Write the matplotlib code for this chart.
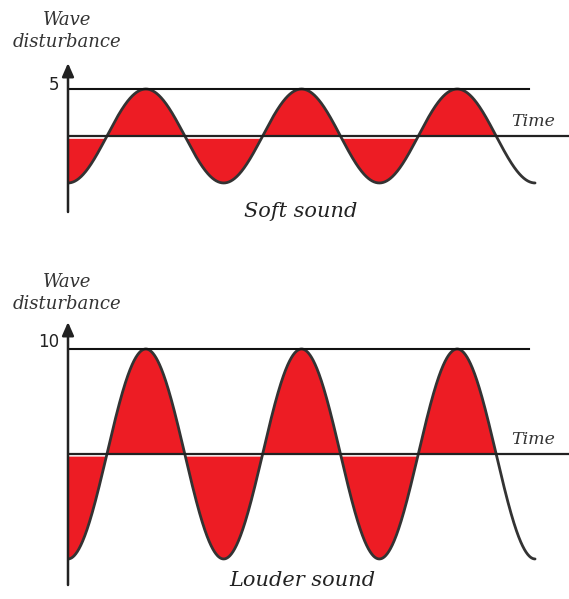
import matplotlib.pyplot as plt
import numpy as np

# wave settings for the two panels
periods = 3
fill_until = 2.75          # last half-lobe is left unfilled
soft_amp = 5
loud_amp = 10
soft_tick = [5]
loud_tick = [10]
soft_title = "Soft sound"
loud_title = "Louder sound"
y_label = "Wave\ndisturbance"
x_label = "Time"

RED = "#ed1c24"
W, H = 569, 599

fig = plt.figure(figsize=(W / 100, H / 100), dpi=100)
fig.patch.set_facecolor("white")

serif = ["DejaVu Serif"]


def draw_panel(rect, amp, ylim, tick, gap, tick_dy):
    ax = fig.add_axes(rect)
    t = np.linspace(0, periods, 1500)
    wave = -amp * np.cos(2 * np.pi * t)
    inside = t <= fill_until

    # red lobes between the wave and the time axis
    ax.fill_between(t, 0, wave, where=(wave >= 0) & inside, color=RED, lw=0,
                    interpolate=True)
    ax.fill_between(t, -gap, wave, where=(wave <= -gap) & inside, color=RED, lw=0,
                    interpolate=True)
    ax.plot(t, wave, color="#333333", lw=2.0, solid_capstyle="round")

    # reference lines
    ax.axhline(0, color="#222222", lw=1.6)
    ax.plot([0, 2.96], [tick[0], tick[0]], color="#111111", lw=1.5)

    ax.set_xlim(0, 3.218)
    ax.set_ylim(*ylim)
    for s in ax.spines.values():
        s.set_visible(False)
    ax.set_xticks([])
    ax.set_yticks([])

    # vertical axis with arrow
    ax.annotate("", xy=(0, ylim[1]), xytext=(0, ylim[0]),
                arrowprops=dict(arrowstyle="-|>,head_length=0.8,head_width=0.35",
                                color="#222222", lw=1.8, shrinkA=0, shrinkB=0),
                annotation_clip=False)

    ax.annotate(str(tick[0]), xy=(0, tick[0]), xytext=(-6, tick_dy),
                textcoords="offset points", ha="right", va="center",
                fontsize=12, color="#222222", family="DejaVu Sans")
    ax.annotate(x_label, xy=(2.99, 0), xytext=(0, 4), textcoords="offset points",
                ha="center", va="bottom", fontsize=12.5, style="italic",
                family=serif, color="#333333")
    return ax


ax1 = draw_panel([68 / W, 387 / H, 501 / W, 149 / H], soft_amp, (-8.09, 7.77),
                 soft_tick, 0.3, 3)
ax2 = draw_panel([68 / W, 14 / H, 501 / W, 263 / H], loud_amp, (-12.48, 12.57),
                 loud_tick, 0.25, 5)

fig.text(301 / W, 1 - 212 / H, soft_title, ha="center", va="center",
         fontsize=15, style="italic", family=serif, color="#222222")
fig.text(302 / W, 1 - 581 / H, loud_title, ha="center", va="center",
         fontsize=15, style="italic", family=serif, color="#222222")

fig.text(67 / W, 1 - 31 / H, y_label, ha="center", va="center",
         fontsize=13, style="italic", family=serif, color="#333333",
         linespacing=1.35)
fig.text(67 / W, 1 - 293 / H, y_label, ha="center", va="center",
         fontsize=13, style="italic", family=serif, color="#333333",
         linespacing=1.35)

fig.savefig("out.png", dpi=100, facecolor="white")
